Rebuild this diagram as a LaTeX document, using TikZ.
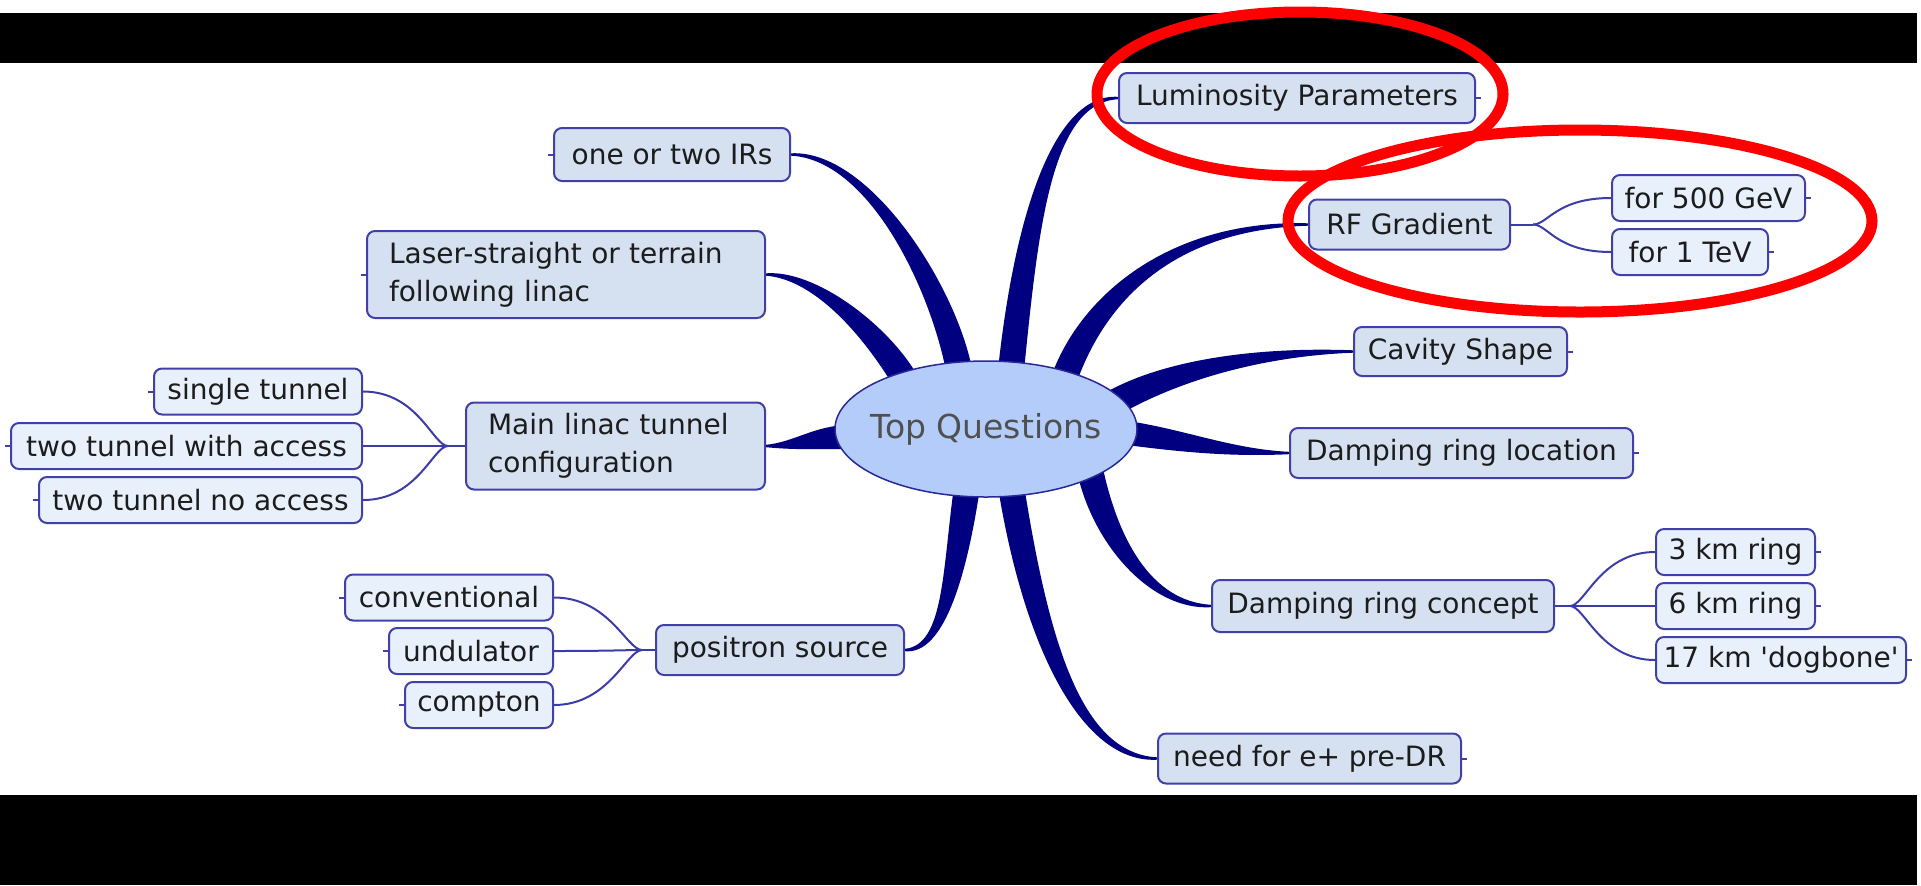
\documentclass[tikz,border=0pt]{standalone}
\usepackage{fontspec}
\setmainfont{DejaVu Sans}
\usetikzlibrary{calc}

\definecolor{navy}{RGB}{0,0,128}
\definecolor{boxline}{RGB}{64,64,168}
\definecolor{twigc}{RGB}{60,60,168}
\definecolor{fillmain}{RGB}{213,225,240}
\definecolor{fillsub}{RGB}{232,240,252}
\definecolor{hubfill}{RGB}{180,204,250}
\definecolor{hubline}{RGB}{40,40,150}
\definecolor{hubtext}{RGB}{80,80,80}
\definecolor{inktext}{RGB}{28,28,28}
\definecolor{markred}{RGB}{255,0,0}

\newcommand\mmfont{\fontsize{14}{19}\selectfont}
\newcommand\hubfont{\fontsize{16.5}{20}\selectfont}

\pgfdeclarelayer{back}
\pgfdeclarelayer{limbs}
\pgfdeclarelayer{hub}
\pgfdeclarelayer{marks}
\pgfsetlayers{back,limbs,hub,main,marks}

% tapered main branch: start, control 1, control 2, end,
% half-width at start, half-width near the second control, half-width at end
\newcommand\organic[7]{%
  \path (#1) coordinate (o-s) (#2) coordinate (o-a) (#3) coordinate (o-b) (#4) coordinate (o-e);
  \path ($(o-s)!#5!90:(o-a)$) coordinate (o-sl)
        ($(o-s)!#5!-90:(o-a)$) coordinate (o-sr)
        ($(o-e)!#6!-90:(o-b)$) coordinate (o-ml)
        ($(o-e)!#6!90:(o-b)$) coordinate (o-mr)
        ($(o-e)!#7!-90:(o-b)$) coordinate (o-el)
        ($(o-e)!#7!90:(o-b)$) coordinate (o-er);
  \fill[limb] (o-sl) .. controls ($(o-a)+(o-sl)-(o-s)$) and ($(o-b)+(o-ml)-(o-e)$) .. (o-el)
    -- (o-er) .. controls ($(o-b)+(o-mr)-(o-e)$) and ($(o-a)+(o-sr)-(o-s)$) .. (o-sr) -- cycle;
}

\begin{document}
\begin{tikzpicture}[x=0.5pt,y=-0.5pt,
  topic/.style={draw=boxline, fill=fillmain, line width=1pt, rounded corners=4pt,
    text=inktext, font=\mmfont, inner sep=0pt, minimum height=25pt},
  subtopic/.style={topic, fill=fillsub, minimum height=23pt},
  twolines/.style={align=left, inner xsep=11pt},
  twig/.style={draw=twigc, line width=1pt},
  stub/.style={draw=boxline, line width=1pt},
  limb/.style={fill=navy},
  redring/.style={draw=markred, line width=5.5pt},
  hublabel/.style={text=hubtext, font=\hubfont, inner sep=0pt}]

\useasboundingbox (0,0) rectangle (1921,885);

\begin{pgfonlayer}{back}
  \fill[black] (0,13) rectangle (1917,63);
  \fill[black] (0,795) rectangle (1917,885);
\end{pgfonlayer}

% central topic
\node[hublabel] (top) at (986,429) {Top Questions};
\begin{pgfonlayer}{hub}
  \draw[draw=hubline, fill=hubfill, line width=0.75pt] (top.center) ellipse [x radius=75.5pt, y radius=34pt];
\end{pgfonlayer}

% right-hand topics
\node[topic, minimum width=178pt, anchor=west] (lum) at (1118,98) {Luminosity Parameters};
\node[topic, minimum width=100.5pt, anchor=west] (rf) at (1308,224.5) {RF Gradient};
\node[subtopic, minimum width=96.5pt, anchor=west] (g500) at (1611,198) {for 500 GeV};
\node[subtopic, minimum width=78pt, anchor=west] (g1) at (1611,252) {for 1 TeV};
\node[topic, minimum width=106.5pt, minimum height=24.5pt, anchor=west] (cav) at (1353,351.5) {Cavity Shape};
\node[topic, minimum width=171.5pt, anchor=west] (drl) at (1289,453) {Damping ring location};
\node[topic, minimum width=171pt, minimum height=26pt, anchor=west] (drc) at (1211,606) {Damping ring concept};
\node[subtopic, minimum width=79.5pt, anchor=west] (k3) at (1655,552) {3 km ring};
\node[subtopic, minimum width=79.5pt, anchor=west] (k6) at (1655,606) {6 km ring};
\node[subtopic, minimum width=125pt, anchor=west] (k17) at (1655,660) {17 km \textquotesingle dogbone\textquotesingle};
\node[topic, minimum width=151.5pt, anchor=west] (need) at (1157,758.5) {need for e+ pre-DR};

% left-hand topics
\node[topic, minimum width=118pt, minimum height=26.5pt, anchor=east] (irs) at (791,154.5) {one or two IRs};
\node[topic, twolines, text width=177pt, minimum height=43.5pt, anchor=east] (laser) at (766,274.5) {Laser-straight or terrain\\following linac};
\node[topic, twolines, text width=127.5pt, minimum height=43.5pt, anchor=east] (linac) at (766,446) {Main linac tunnel\\configuration};
\node[subtopic, minimum width=104pt, anchor=east] (st) at (363,391.5) {single tunnel};
\node[subtopic, minimum width=175.5pt, anchor=east] (twa) at (363,446) {two tunnel with access};
\node[subtopic, minimum width=161.5pt, anchor=east] (tna) at (363,500) {two tunnel no access};
\node[topic, minimum width=124pt, anchor=east] (pos) at (905,650) {positron source};
\node[subtopic, minimum width=104pt, anchor=east] (conv) at (554,597.5) {conventional};
\node[subtopic, minimum width=82pt, anchor=east] (und) at (554,651) {undulator};
\node[subtopic, minimum width=74pt, anchor=east] (comp) at (554,705) {compton};

% thick branches from the central topic
\begin{pgfonlayer}{limbs}
  \organic{$(top)+(-26,-54)$}{$(top)+(-41,-139)$}{$(irs.east)+(79,0)$}{irs.east}{6.5pt}{2.6pt}{0.6pt}
  \organic{$(top)+(-81,-49)$}{$(top)+(-111,-99)$}{$(laser.east)+(49,0)$}{laser.east}{6.5pt}{2.4pt}{0.6pt}
  \organic{$(top)+(-136,8)$}{$(top)+(-171,8)$}{$(linac.east)+(29,0)$}{linac.east}{6pt}{2pt}{0.6pt}
  \organic{$(top)+(-18,51)$}{$(top)+(-31,141)$}{$(pos.east)+(40,0)$}{pos.east}{6.5pt}{2.6pt}{0.6pt}
  \organic{$(top)+(24,51)$}{$(top)+(49,211)$}{$(need.west)+(-77,0)$}{need.west}{6.5pt}{2.6pt}{0.6pt}
  \organic{$(top)+(104,41)$}{$(top)+(119,111)$}{$(drc.west)+(-61,0)$}{drc.west}{6.5pt}{2.4pt}{0.6pt}
  \organic{$(top)+(134,3)$}{$(top)+(194,11)$}{$(drl.west)+(-59,0)$}{drl.west}{6pt}{2pt}{0.6pt}
  \organic{$(top)+(124,-24)$}{$(top)+(184,-59)$}{$(cav.west)+(-93,0)$}{cav.west}{6.5pt}{2.4pt}{0.6pt}
  \organic{$(top)+(76,-44)$}{$(top)+(104,-129)$}{$(rf.west)+(-138,0)$}{rf.west}{6.5pt}{2.6pt}{0.6pt}
  \organic{$(top)+(24,-49)$}{$(top)+(39,-199)$}{$(lum.west)+(-68,0)$}{lum.west}{6.5pt}{2.6pt}{0.6pt}
\end{pgfonlayer}

% thin connectors to the sub-topics
\coordinate (rf-fork) at ($(rf.east)+(22,0)$);
\draw[twig] (rf.east) -- (rf-fork);
\foreach \c in {g500,g1}
  \draw[twig] (rf-fork) .. controls +(15,0) and +(-55,0) .. (\c.west);

\coordinate (drc-fork) at ($(drc.east)+(15,0)$);
\draw[twig] (drc.east) -- (drc-fork);
\foreach \c in {k3,k6,k17}
  \draw[twig] (drc-fork) .. controls +(15,0) and +(-55,0) .. (\c.west);

\coordinate (linac-fork) at ($(linac.west)+(-17,0)$);
\draw[twig] (linac.west) -- (linac-fork);
\foreach \c in {st,twa,tna}
  \draw[twig] (linac-fork) .. controls +(-15,0) and +(55,0) .. (\c.east);

\coordinate (pos-fork) at ($(pos.west)+(-13,0)$);
\draw[twig] (pos.west) -- (pos-fork);
\foreach \c in {conv,und,comp}
  \draw[twig] (pos-fork) .. controls +(-15,0) and +(55,0) .. (\c.east);

% collapse stubs on the outer sides
\foreach \c in {lum,cav,drl,need,g500,g1,k3,k6,k17}
  \draw[stub] (\c.east) -- ++(5,0);
\foreach \c in {irs,laser,st,twa,tna,conv,und,comp}
  \draw[stub] (\c.west) -- ++(-5,0);

% red highlight rings
\begin{pgfonlayer}{marks}
  \draw[redring] ($(lum.center)+(3,-4)$) ellipse [x radius=101.5pt, y radius=41pt];
  \draw[redring] (1580,221) ellipse [x radius=146pt, y radius=45.5pt];
\end{pgfonlayer}

\end{tikzpicture}
\end{document}
